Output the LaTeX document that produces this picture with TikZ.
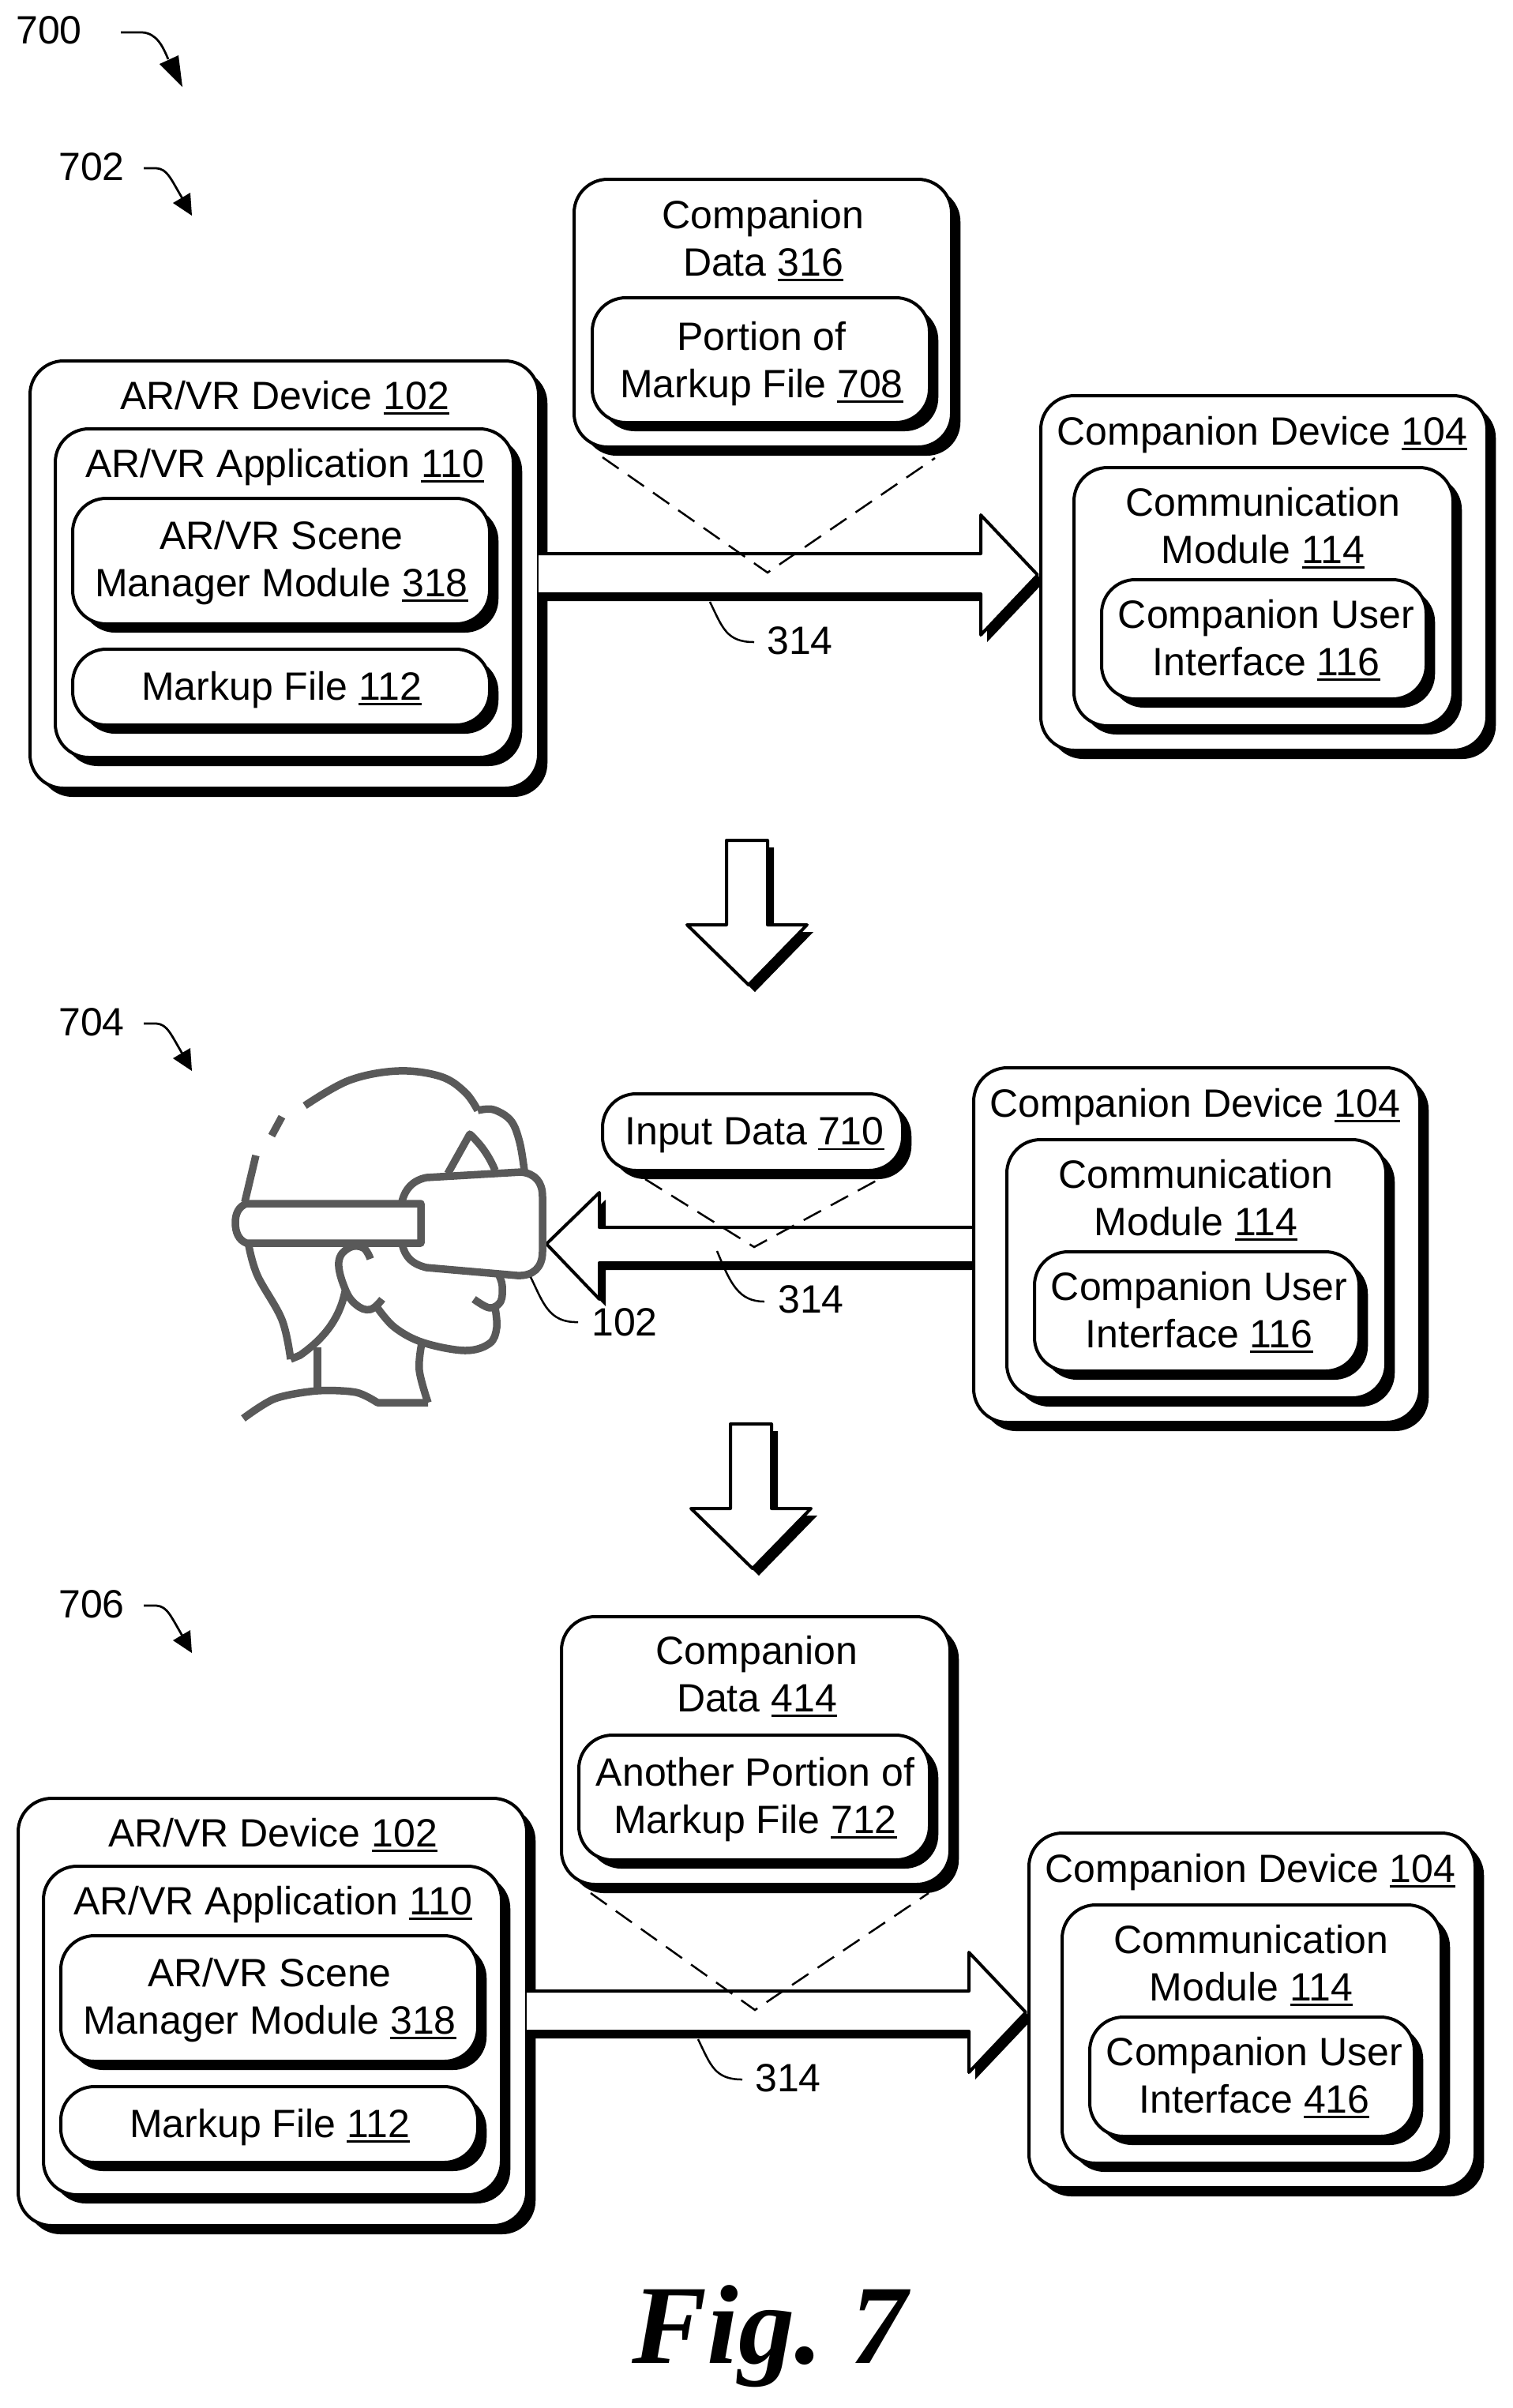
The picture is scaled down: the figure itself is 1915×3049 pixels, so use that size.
\documentclass[tikz,border=0pt]{standalone}
\usepackage{fontspec}
\setmainfont{Liberation Sans}
\newfontfamily\figfont{Liberation Serif}
\usetikzlibrary{shadows}
\newcommand\unum[1]{\setbox0\hbox{#1}\leavevmode\rlap{\rule[-2.6pt]{\wd0}{1pt}}\box0 }
\tikzset{
  box/.style={draw=black,fill=white,line width=1.6pt,rounded corners=17pt,inner sep=0pt,outer sep=0pt,
    general shadow={fill=black,shadow xshift=4.5pt,shadow yshift=-4.4pt}},
  lab/.style={font=\fontsize{20}{24}\selectfont,align=center,inner sep=0pt,text=black},
  boxlab/.style={lab,xshift=0.2pt,yshift=-1.8pt},
  bigarrow/.style={draw=black,fill=white,line width=1.6pt,line join=round},
  zoomline/.style={draw=black,line width=1pt,dash pattern=on 10pt off 5.6pt},
  leader/.style={draw=black,line width=1pt},
  refline/.style={draw=black,line width=1.1pt},
  head/.style={draw=black!65,line width=3.8pt,line join=round,fill=none},
  headfill/.style={draw=black!65,line width=3.8pt,line join=round,fill=white}
}
% \bx{name}{x1}{y1}{x2}{y2}
\newcommand\bx[5]{\pgfmathsetmacro\bxw{#4-#2}\pgfmathsetmacro\bxh{#5-#3}%
  \node[box,minimum width=\bxw*0.4pt,minimum height=\bxh*0.4pt] (#1) at ({(#2+#4)/2},{(#3+#5)/2}) {};}
\newcommand\barrow[1]{\fill[black,shift={(8,9)}] #1; \draw[bigarrow] #1;}
% reference arrow with curved tail; a prefix names its ends
\newcommand\refarrow[1]{%
  \coordinate (#1s) at (182,213);\coordinate (#1e) at (232,253);\coordinate (#1t) at (243,273);
  \draw[refline] (#1s) -- (198,213) .. controls (212,214) and (216,226) .. (#1e);
  \fill[black] (#1t) -- (219,257) -- (241,244) -- cycle;}
\newcommand\devicepanel[1]{%
  \bx{#1dev}{38}{457}{682}{998}
  \bx{#1app}{70}{543}{650}{959}
  \bx{#1scene}{92}{631}{620}{790}
  \bx{#1file}{92}{822}{620}{918}
  \node[boxlab] (#1devt) at (360,499) {AR/VR Device \unum{102}};
  \node[boxlab] (#1appt) at (360,587) {AR/VR Application \unum{110}};
  \node[boxlab] (#1scenet) at (356,708) {AR/VR Scene\\Manager Module \unum{318}};
  \node[boxlab] (#1filet) at (356,869) {Markup File \unum{112}};}
\newcommand\companionpanel[2]{%
  \bx{#1dev}{1318}{501}{1883}{950}
  \bx{#1com}{1360}{592}{1840}{919}
  \bx{#1ui}{1395}{734}{1806}{885}
  \node[boxlab] (#1devt) at (1598,546) {Companion Device \unum{104}};
  \node[boxlab] (#1comt) at (1599,664) {Communication\\Module \unum{114}};
  \node[boxlab] (#1uit) at (1603,806) {Companion User\\Interface \unum{#2}};}
\begin{document}
\begin{tikzpicture}[x=0.4pt,y=-0.4pt]
\useasboundingbox (0,0) rectangle (1915,3049);
% ---- labels and reference arrows
\node[lab] (l700) at (62,38) {700};
\coordinate (r700s) at (153,41);\coordinate (r700e) at (213,75);\coordinate (r700t) at (231,110);
\draw[refline] (r700s) -- (180,41) .. controls (198,42) and (206,58) .. (r700e);
\fill[black] (r700t) -- (202,81) -- (226,70) -- cycle;
\node[lab] (l702) at (116,211) {702};
\refarrow{r702}
\node[lab] (l704) at (116,1294) {704};
\begin{scope}[shift={(0,1083)}]\refarrow{r704}\end{scope}
\node[lab] (l706) at (116,2031) {706};
\begin{scope}[shift={(0,1820)}]\refarrow{r706}\end{scope}
% ---- panel 702
\devicepanel{a}
\barrow{(682,701) -- (1242,701) -- (1242,652) -- (1314,728) -- (1242,804) -- (1242,752) -- (682,752)}
\companionpanel{b}{116}
\bx{cd}{727}{227}{1205}{566}
\bx{pf}{750}{377}{1177}{535}
\node[boxlab] (cdt) at (966,300) {Companion\\Data \unum{316}};
\node[boxlab] (pft) at (964,456) {Portion of\\Markup File \unum{708}};
\coordinate (z1a) at (763,579);\coordinate (z1b) at (972,725);\coordinate (z1c) at (1184,580);
\draw[zoomline] (z1a) -- (z1b) -- (z1c);
\node[lab] (n314a) at (1013,811) {314};
\coordinate (q1) at (899,762);
\draw[leader] (q1) .. controls (915,795) and (920,813) .. (955,813);
% ---- first down arrow
\barrow{(920,1064) -- (972,1064) -- (972,1171) -- (1022,1171) -- (948,1247) -- (870,1171) -- (920,1171) -- cycle}
% ---- panel 704
\barrow{(1240,1554) -- (759,1554) -- (759,1510) -- (692,1575) -- (759,1645) -- (759,1599) -- (1240,1599) -- cycle}
\begin{scope}[shift={(-85,851)}]\companionpanel{c}{116}\end{scope}
\bx{inp}{763}{1385}{1143}{1482}
\node[boxlab] (inpt) at (955,1433) {Input Data \unum{710}};
\coordinate (z2a) at (817,1493);\coordinate (z2b) at (955,1579);\coordinate (z2c) at (1117,1491);
\draw[zoomline] (z2a) -- (z2b) -- (z2c);
\node[lab] (n314b) at (1027,1645) {314};
\coordinate (q2) at (908,1584);
\draw[leader] (q2) .. controls (925,1625) and (935,1648) .. (968,1648);
% ---- head with headset
\draw[head] plot[smooth,tension=0.6] coordinates {(386,1400) (442,1368) (504,1356) (558,1363) (589,1383) (605,1406)};
\draw[head] plot[smooth,tension=0.6] coordinates {(605,1406) (625,1405) (647,1419) (658,1446) (664,1482)};
\draw[head] (357,1414) -- (344,1438);
\draw[head] (324,1463) -- (310,1522);
\draw[head] (567,1486) -- (595,1436) .. controls (610,1450) and (620,1465) .. (627,1482);
\draw[headfill] (507,1540) .. controls (507,1510) and (520,1495) .. (540,1491) -- (660,1484) .. controls (678,1486) and (687,1497) .. (687,1515) -- (687,1585) .. controls (687,1605) and (675,1616) .. (655,1615) -- (540,1605) .. controls (520,1600) and (509,1590) .. (507,1560) -- cycle;
\draw[headfill] (533,1524) -- (312,1524) .. controls (302,1528) and (298,1537) .. (298,1548) .. controls (298,1560) and (302,1570) .. (312,1574) -- (533,1574) -- cycle;
\draw[head] plot[smooth,tension=0.6] coordinates {(315,1577) (326,1615) (357,1671) (368,1721)};
\draw[head] (368,1721) -- (380,1716) .. controls (410,1695) and (430,1670) .. (437,1635);
\draw[head] plot[smooth,tension=0.7] coordinates {(469,1594) (460,1580) (442,1580) (429,1598) (437,1632) (451,1652) (469,1658) (484,1645)};
\draw[head] plot[smooth,tension=0.6] coordinates {(478,1656) (500,1681) (536,1700) (589,1710) (620,1701) (629,1681) (627,1656)};
\draw[head] plot[smooth,tension=0.6] coordinates {(600,1645) (620,1656) (634,1648) (636,1628) (632,1615)};
\draw[head] plot[smooth,tension=0.6] coordinates {(534,1701) (531,1735) (542,1776)};
\draw[head] (402,1706) -- (402,1759);
\draw[head] plot[smooth,tension=0.5] coordinates {(308,1796) (348,1771) (402,1761) (451,1763) (478,1776)} -- (542,1776);
\coordinate (q3) at (672,1617);
\node[lab] (n102) at (791,1674) {102};
\draw[leader] (q3) .. controls (688,1650) and (695,1675) .. (732,1674);
% ---- second down arrow
\begin{scope}[shift={(5,739)}]
\barrow{(920,1064) -- (972,1064) -- (972,1171) -- (1022,1171) -- (948,1247) -- (870,1171) -- (920,1171) -- cycle}
\end{scope}
% ---- panel 706
\begin{scope}[shift={(-15,1820)}]
\devicepanel{d}
\barrow{(682,701) -- (1242,701) -- (1242,652) -- (1314,728) -- (1242,804) -- (1242,752) -- (682,752)}
\companionpanel{e}{416}
\node[lab] (n314c) at (1013,811) {314};
\coordinate (q4) at (899,762);
\draw[leader] (q4) .. controls (915,795) and (920,813) .. (955,813);
\end{scope}
\bx{cd2}{711}{2047}{1203}{2386}
\bx{pf2}{733}{2197}{1177}{2355}
\node[boxlab] (cd2t) at (958,2118) {Companion\\Data \unum{414}};
\node[boxlab] (pf2t) at (956,2274) {Another Portion of\\Markup File \unum{712}};
\coordinate (z3a) at (748,2397);\coordinate (z3b) at (956,2545);\coordinate (z3c) at (1176,2397);
\draw[zoomline] (z3a) -- (z3b) -- (z3c);
% ---- figure caption
\node[anchor=base,inner sep=0pt,font=\figfont\bfseries\itshape\fontsize{57}{60}\selectfont] (fig) at (975,2992) {Fig.\ 7};
\end{tikzpicture}
\end{document}
